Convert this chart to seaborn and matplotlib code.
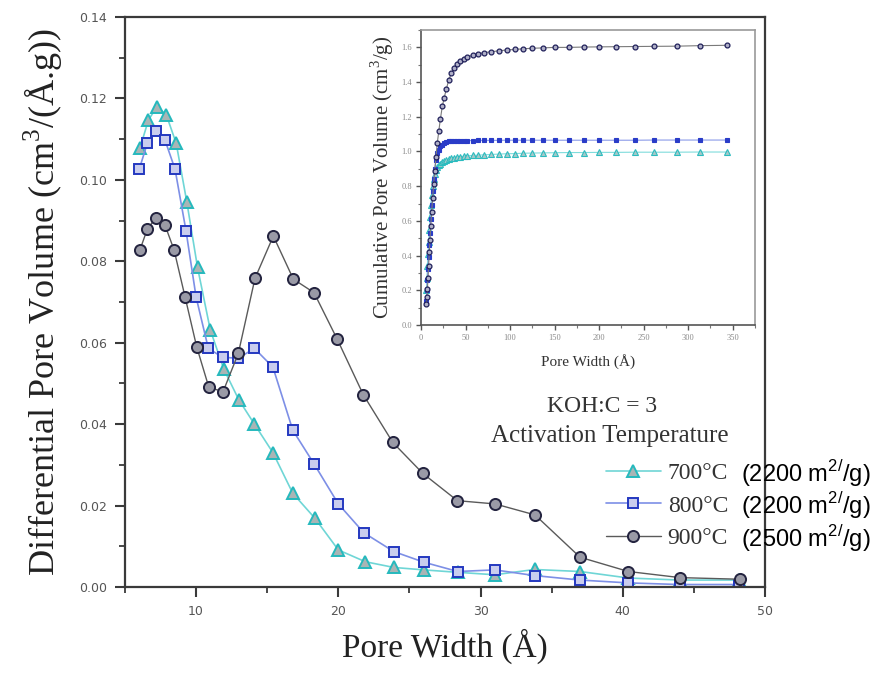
import matplotlib
matplotlib.use("Agg")
import matplotlib.pyplot as plt
from matplotlib.ticker import MultipleLocator
from matplotlib.lines import Line2D
import seaborn as sns

sns.set_style("ticks")
plt.rcParams['font.family'] = ['Liberation Serif', 'DejaVu Serif']
plt.rcParams['mathtext.fontset'] = 'custom'
plt.rcParams['mathtext.rm'] = 'Liberation Serif'
plt.rcParams['mathtext.sf'] = 'Liberation Sans'

# ---------------- data (main chart) ----------------
x700 = [6.05, 6.65, 7.25, 7.9, 8.6, 9.35, 10.1, 11.0, 11.95, 13.0, 14.1, 15.4, 16.8, 18.35,
        20.0, 21.9, 23.9, 26.0, 28.4, 31.0, 33.8, 37.0, 40.4, 44.0, 48.2]
y700 = [0.1078, 0.1147, 0.118, 0.116, 0.109, 0.0945, 0.0785, 0.0631, 0.0535, 0.046, 0.040,
        0.033, 0.023, 0.0169, 0.0091, 0.0062, 0.0048, 0.0042, 0.0036, 0.0030, 0.0043, 0.0038,
        0.0022, 0.0017, 0.0017]

x800 = [6.0, 6.57, 7.18, 7.81, 8.52, 9.29, 10.0, 10.86, 11.87, 12.97, 14.1, 15.4, 16.8, 18.3,
        20.0, 21.8, 23.9, 26.0, 28.4, 31.0, 33.8, 37.0, 40.4, 44.0, 48.2]
y800 = [0.1026, 0.109, 0.112, 0.1098, 0.1026, 0.0875, 0.0712, 0.0586, 0.0564, 0.0562, 0.0586,
        0.054, 0.0385, 0.0302, 0.0204, 0.0133, 0.0087, 0.0061, 0.0038, 0.0042, 0.0028, 0.0017,
        0.0010, 0.0006, 0.0006]

x900 = [6.05, 6.57, 7.18, 7.81, 8.45, 9.22, 10.04, 10.9, 11.9, 12.97, 14.14, 15.43, 16.84, 18.29,
        19.93, 21.76, 23.83, 25.94, 28.37, 31.02, 33.83, 37.0, 40.4, 44.03, 48.25]
y900 = [0.0828, 0.0879, 0.0907, 0.0889, 0.0828, 0.0713, 0.059, 0.049, 0.048, 0.0574, 0.0758,
        0.0862, 0.0756, 0.0723, 0.0608, 0.0472, 0.0355, 0.0279, 0.0212, 0.0204, 0.0177, 0.0073,
        0.0038, 0.0023, 0.0019]

# ---------------- data (inset, cumulative) ----------------
xin = [6.0, 6.6, 7.2, 7.8, 8.5, 9.3, 10.0, 10.9, 11.9, 13.0, 14.1, 15.4, 16.8, 18.3, 20.0, 21.8,
       23.9, 26.0, 28.4, 31.0, 33.8, 37.0, 40.4, 44.0, 48.2, 52, 58, 64, 71, 79, 87, 96, 105,
       115, 125, 137, 150, 166, 183, 200, 219, 240, 262, 287, 313, 343]
cum900 = [0.12, 0.16, 0.21, 0.27, 0.34, 0.42, 0.49, 0.57, 0.65, 0.73, 0.81, 0.89, 0.97, 1.05,
          1.12, 1.19, 1.26, 1.31, 1.36, 1.41, 1.45, 1.48, 1.505, 1.52, 1.535, 1.545, 1.555,
          1.563, 1.57, 1.575, 1.58, 1.585, 1.588, 1.592, 1.595, 1.597, 1.6, 1.6, 1.602, 1.603,
          1.604, 1.605, 1.606, 1.607, 1.61, 1.612]
cum800 = [0.14, 0.2, 0.26, 0.32, 0.39, 0.46, 0.53, 0.61, 0.69, 0.77, 0.84, 0.9, 0.95, 0.99, 1.01,
          1.03, 1.04, 1.05, 1.055, 1.058, 1.06, 1.061, 1.062, 1.062, 1.063, 1.063, 1.063, 1.064,
          1.064, 1.064, 1.064, 1.065, 1.065, 1.065, 1.065, 1.065, 1.065, 1.065, 1.065, 1.065,
          1.065, 1.065, 1.066, 1.066, 1.066, 1.066]
cum700 = [0.2, 0.27, 0.34, 0.41, 0.48, 0.55, 0.62, 0.69, 0.75, 0.8, 0.84, 0.87, 0.895, 0.91,
          0.92, 0.93, 0.94, 0.945, 0.95, 0.955, 0.96, 0.965, 0.968, 0.97, 0.973, 0.975, 0.977,
          0.979, 0.981, 0.983, 0.985, 0.987, 0.988, 0.99, 0.991, 0.992, 0.993, 0.994, 0.994,
          0.995, 0.995, 0.996, 0.996, 0.996, 0.997, 0.997]

labels = ["700°C", "800°C", "900°C"]
areas = ["(2200 m$^{\\mathsf{2/}}$/g)", "(2200 m$^{\\mathsf{2/}}$/g)", "(2500 m$^{\\mathsf{2/}}$/g)"]

# ---------------- styles ----------------
sty = {
    "700°C": dict(marker="^", ms=9, color="#6fd6d6", mec="#25b9bd", mfc="#a9b5b5", mew=1.4, lw=1.2),
    "800°C": dict(marker="s", ms=7, color="#7d8fe6", mec="#2438c0", mfc="#c9cdee", mew=1.4, lw=1.2),
    "900°C": dict(marker="o", ms=8, color="#5a5a5a", mec="#23233f", mfc="#9a9aa6", mew=1.4, lw=1.0),
}
sty_in = {
    "700°C": dict(marker="^", ms=4, color="#7fdcdc", mec="#2bbcbf", mfc="#a8c8c8", mew=0.8, lw=0.8),
    "800°C": dict(marker="s", ms=3.5, color="#8a9ae8", mec="#2a3cc8", mfc="#2a3cc8", mew=0.8, lw=0.8),
    "900°C": dict(marker="o", ms=3.5, color="#7a7a7a", mec="#20205a", mfc="#b0b0c8", mew=0.9, lw=0.8),
}

fig = plt.figure(figsize=(8.89, 6.75), dpi=100)
ax = fig.add_axes([0.1406, 0.1304, 0.7199, 0.8444])

spine_col = "#3a3a3a"
for (xs, ys, lab) in [(x700, y700, "700°C"), (x800, y800, "800°C"), (x900, y900, "900°C")]:
    s = sty[lab]
    sns.lineplot(x=xs, y=ys, ax=ax, sort=False, estimator=None, color=s["color"], lw=s["lw"],
                 marker=s["marker"], markersize=s["ms"], markeredgecolor=s["mec"],
                 markerfacecolor=s["mfc"], markeredgewidth=s["mew"], legend=False)

ax.set_xlim(5, 50)
ax.set_ylim(0, 0.14)
ax.xaxis.set_minor_locator(MultipleLocator(5))
ax.yaxis.set_minor_locator(MultipleLocator(0.01))
ax.set_yticks([0, 0.02, 0.04, 0.06, 0.08, 0.10, 0.12, 0.14])
ax.set_yticklabels(["0.00", "0.02", "0.04", "0.06", "0.08", "0.10", "0.12", "0.14"])
ax.set_xticks([10, 20, 30, 40, 50])
ax.set_xticklabels(["10", "20", "30", "40", "50"])
for sp in ax.spines.values():
    sp.set_color(spine_col)
    sp.set_linewidth(1.6)
ax.tick_params(which="major", direction="out", length=7, width=1.5, color=spine_col,
               labelsize=9, labelcolor="#555555", pad=6)
ax.tick_params(which="minor", direction="out", length=4, width=1.3, color=spine_col)
for t in ax.get_xticklabels() + ax.get_yticklabels():
    t.set_family(["DejaVu Sans"])

ax.set_xlabel("Pore Width (Å)", fontsize=24, color="#222222", labelpad=8)
ax.set_ylabel("Differential Pore Volume (cm$^3$/(Å.g))", fontsize=26, color="#222222", labelpad=10)

# annotation text
ax.text(0.745, 0.3158, "KOH:C = 3", transform=ax.transAxes, ha="center", va="center",
        fontsize=17, color="#333333")
ax.text(0.758, 0.265, "Activation Temperature", transform=ax.transAxes, ha="center", va="center",
        fontsize=18, color="#333333")

handles = []
for lab in labels:
    s = sty[lab]
    handles.append(Line2D([0], [0], color=s["color"], lw=s["lw"], marker=s["marker"],
                          ms=s["ms"], mec=s["mec"], mfc=s["mfc"], mew=s["mew"]))
leg = ax.legend(handles, labels, loc="upper left", bbox_to_anchor=(0.751, 0.218),
                frameon=False, fontsize=17, handlelength=2.33, handletextpad=0.3,
                labelspacing=0.46, borderaxespad=0, borderpad=0)
for t in leg.get_texts():
    t.set_color("#333333")

for i, a in enumerate(areas):
    fig.text(0.834, 0.2985 - i * 0.0482, a, fontsize=17, family=["Liberation Sans"],
             color="black", ha="left", va="center")

# ---------------- inset ----------------
axi = fig.add_axes([0.4736, 0.5185, 0.3757, 0.4370])
for (cy, lab) in [(cum700, "700°C"), (cum800, "800°C"), (cum900, "900°C")]:
    s = sty_in[lab]
    sns.lineplot(x=xin, y=cy, ax=axi, sort=False, estimator=None, color=s["color"], lw=s["lw"],
                 marker=s["marker"], markersize=s["ms"], markeredgecolor=s["mec"],
                 markerfacecolor=s["mfc"], markeredgewidth=s["mew"], legend=False)
axi.set_xlim(0, 375)
axi.set_ylim(0, 1.7)
axi.set_xticks([0, 50, 100, 150, 200, 250, 300, 350])
axi.set_xticklabels(["0", "50", "100", "150", "200", "250", "300", "350"])
axi.xaxis.set_minor_locator(MultipleLocator(25))
axi.set_yticks([0, 0.2, 0.4, 0.6, 0.8, 1.0, 1.2, 1.4, 1.6])
axi.set_yticklabels(["0.0", "0.2", "0.4", "0.6", "0.8", "1.0", "1.2", "1.4", "1.6"])
axi.yaxis.set_minor_locator(MultipleLocator(0.1))
for sp in axi.spines.values():
    sp.set_color("#9a9a9a")
    sp.set_linewidth(1.2)
axi.spines["left"].set_color("#555555")
axi.spines["bottom"].set_color("#555555")
axi.tick_params(which="major", direction="out", length=3.5, width=1, color="#555555",
                labelsize=6, labelcolor="#8a8a8a", pad=3)
axi.tick_params(which="minor", direction="out", length=2, width=0.8, color="#777777")
axi.set_xlabel("Pore Width (Å)", fontsize=11, color="#333333", labelpad=9)
axi.set_ylabel("Cumulative Pore Volume (cm$^3$/g)", fontsize=15, color="#333333", labelpad=4)

fig.savefig("out.png", dpi=100)
